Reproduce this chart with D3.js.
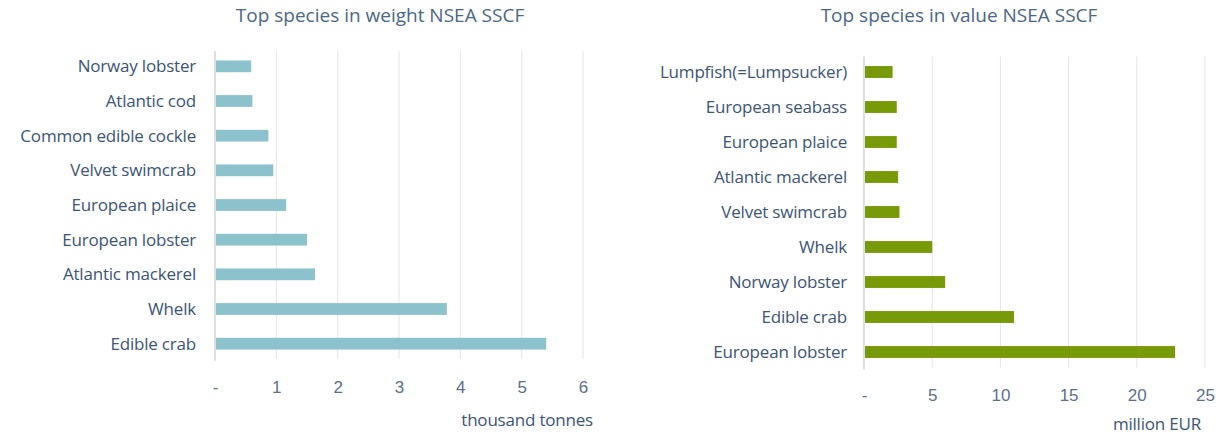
<!DOCTYPE html>
<html lang="en">
<head>
  <meta charset="utf-8" />
  <title>Top species NSEA SSCF</title>
  <style>
    body { margin: 0; background: #fff; }
    svg { display: block; font-family: "Open Sans", sans-serif; }
    .title { font-size: 19px; fill: #4a6688; }
    .cat { font-size: 17px; fill: #3b5478; letter-spacing: -0.2px; }
    .tick text { font-size: 17px; fill: #5a6f8c; }
    .unit { font-size: 17px; fill: #3b5478; letter-spacing: -0.2px; }
    .grid line { stroke: #e4e4e4; stroke-width: 1; }
    .zero { stroke: #c9c9c9; stroke-width: 1.2; }
  </style>
</head>
<body>
<svg id="chart" width="1221" height="437"></svg>

<script src="https://d3js.org/d3.v7.min.js"></script>
<script>
  // weight chart (thousand tonnes), top to bottom
  const weightSpecies = ["Norway lobster", "Atlantic cod", "Common edible cockle", "Velvet swimcrab",
    "European plaice", "European lobster", "Atlantic mackerel", "Whelk", "Edible crab"];
  const weightValues = [0.59, 0.61, 0.87, 0.95, 1.16, 1.5, 1.63, 3.78, 5.4];
  const weightTicks = [0, 1, 2, 3, 4, 5, 6];

  // value chart (million EUR), top to bottom
  const valueSpecies = ["Lumpfish(=Lumpsucker)", "European seabass", "European plaice", "Atlantic mackerel",
    "Velvet swimcrab", "Whelk", "Norway lobster", "Edible crab", "European lobster"];
  const valueValues = [2.1, 2.4, 2.4, 2.5, 2.6, 5.0, 5.95, 11.0, 22.8];
  const valueTicks = [0, 5, 10, 15, 20, 25];

  const svg = d3.select("#chart");

  function drawChart(opt) {
    const g = svg.append("g");
    const x = d3.scaleLinear().domain(opt.domain).range([opt.x0, opt.x1]);
    const y = d3.scaleBand().domain(opt.cats).range([opt.top, opt.bottom])
      .paddingInner(0.66).paddingOuter(0.33);

    // gridlines
    g.append("g").attr("class", "grid")
      .selectAll("line").data(opt.ticks.filter(t => t > 0)).join("line")
      .attr("x1", d => x(d)).attr("x2", d => x(d))
      .attr("y1", opt.top + 2).attr("y2", opt.bottom - 2);

    g.append("line").attr("class", "zero")
      .attr("x1", x(0)).attr("x2", x(0))
      .attr("y1", opt.top + 2).attr("y2", opt.bottom);

    g.selectAll("rect").data(opt.vals).join("rect")
      .attr("x", x(0) + 1)
      .attr("y", (d, i) => y(opt.cats[i]))
      .attr("width", d => x(d) - x(0) - 1)
      .attr("height", y.bandwidth())
      .attr("fill", opt.color);

    g.selectAll(".cat").data(opt.cats).join("text")
      .attr("class", "cat")
      .attr("x", opt.labelX)
      .attr("y", d => y(d) + y.bandwidth() / 2)
      .attr("dy", "0.35em")
      .attr("text-anchor", "end")
      .text(d => d);

    const axis = d3.axisBottom(x).tickValues(opt.ticks).tickSize(0)
      .tickFormat(d => d === 0 ? "-" : d);
    g.append("g")
      .attr("transform", `translate(0,${opt.tickY})`)
      .call(axis)
      .call(a => a.select(".domain").remove())
      .selectAll("text").attr("dy", "0.35em").attr("y", 0);

    g.append("text").attr("class", "unit")
      .attr("x", opt.unitX).attr("y", opt.unitY)
      .attr("text-anchor", "end")
      .text(opt.unit);

    g.append("text").attr("class", "title")
      .attr("x", opt.titleX).attr("y", 22)
      .attr("text-anchor", "middle")
      .text(opt.title);
  }

  drawChart({
    title: "Top species in weight NSEA SSCF", titleX: 380,
    cats: weightSpecies, vals: weightValues, ticks: weightTicks, domain: [0, 6],
    x0: 215, x1: 583, top: 49, bottom: 361, labelX: 196,
    tickY: 387, unit: "thousand tonnes", unitX: 593, unitY: 426,
    color: "#8cc2cb"
  });

  drawChart({
    title: "Top species in value NSEA SSCF", titleX: 959,
    cats: valueSpecies, vals: valueValues, ticks: valueTicks, domain: [0, 25],
    x0: 864, x1: 1205, top: 54.5, bottom: 369.5, labelX: 847,
    tickY: 395, unit: "million EUR", unitX: 1201, unitY: 430,
    color: "#789a08"
  });
</script>
</body>
</html>
